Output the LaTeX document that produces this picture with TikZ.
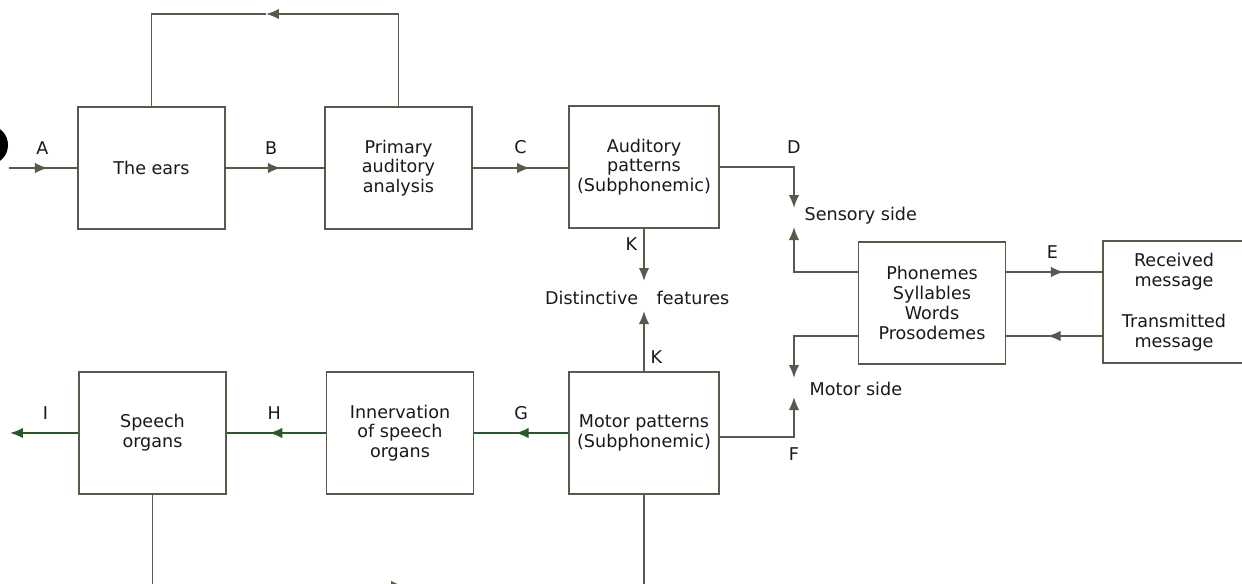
\documentclass[tikz,border=0pt]{standalone}
\usepackage{fontspec}
\setmainfont{DejaVu Sans}
\usepackage{tikz}
\usetikzlibrary{arrows.meta}
\usetikzlibrary{calc}
\usetikzlibrary{decorations.markings}
\definecolor{ink}{RGB}{25,25,25}
\definecolor{wire}{RGB}{85,90,74}
\definecolor{gwire}{RGB}{40,90,40}
\tikzset{l/.style={font=\fontsize{10}{11.5}\selectfont, text=ink}}
\tikzset{blk/.style={draw=wire, minimum width=2.94cm, minimum height=2.44cm, inner sep=0pt, align=center, font=\fontsize{10}{11.3}\selectfont, text=ink}}
\tikzset{mid/.style={postaction={decorate}, decoration={markings, mark=at position #1 with {\arrow{>}}}}}

\begin{document}
\begin{tikzpicture}[x=0.02cm, y=-0.02cm, line width=1pt, color=wire, >={Latex[length=2.6mm,width=2.1mm]}]
          \useasboundingbox (0,0) rectangle (1242,583);
          \clip (0,0) rectangle (1242,583);
          \fill[black] (-10,145) ellipse [x radius=18, y radius=19];
          \node[blk] (ears) at (151.5,168) {The ears};
          \node[blk] (prim) at (398.5,168) {Primary\\auditory\\analysis};
          \node[blk, minimum width=3cm] (audp) at (644,167) {Auditory\\patterns\\(Subphonemic)};
          \node[blk] (phon) at (932,303) {Phonemes\\Syllables\\Words\\Prosodemes};
          \node[blk, minimum width=2.84cm] (recv) at (1174,302) {Received\\message\\[12pt]Transmitted\\message};
          \node[blk] (speech) at (152.5,433) {Speech\\organs};
          \node[blk] (innv) at (400,433) {Innervation\\of speech\\organs};
          \node[blk, minimum width=3cm] (motor) at (644,433) {Motor patterns\\(Subphonemic)};
          \coordinate (src) at (9,168);
          \draw[mid=0.57] (src) -- (ears) node[l, pos=0.49, above=4pt] {A};
          \draw[mid=0.56] (ears) -- (prim) node[l, pos=0.46, above=4pt] {B};
          \draw[mid=0.6] (prim) -- (prim.east -| audp.west) node[l, pos=0.5, above=4pt] {C};
          \coordinate (fb) at (266,14);
          \draw[->] (prim.north) |- (fb);
          \draw (fb) -| (ears.north);
          \coordinate (sd) at (794,208);
          \coordinate (su) at (794,227);
          \draw[->] (audp.east) -| (sd) node[l, pos=0.5, above=4pt] {D};
          \draw[->] ($(phon.west)+(0,-31)$) -| (su);
          \node[l, anchor=west] (sens) at (798,216) {Sensory side};
          \coordinate (e1) at ($(phon.east)+(0,-31)$);
          \coordinate (e2) at ($(recv.west)+(0,34)$);
          \draw[mid=0.6] (e1) -- (e1 -| recv.west) node[l, pos=0.48, above=4pt] {E};
          \draw[mid=0.57] (e2) -- (e2 -| phon.east);
          \coordinate (md) at (794,378);
          \coordinate (mu) at (794,397);
          \draw[->] ($(phon.west)+(0,33)$) -| (md);
          \draw[->] ($(motor.east)+(0,4)$) -| (mu) node[l, pos=0.5, below=2pt] {F};
          \node[l, anchor=west] (mside) at (803,389) {Motor side};
          \coordinate (kd) at (644,281);
          \coordinate (ku) at (644,311);
          \draw[->] (audp.south) -- (kd) node[l, pos=0.29, left] {K};
          \draw[->] (motor.north) -- (ku) node[l, pos=0.23, right] {K};
          \node[l, anchor=east] (dist) at (645,298) {Distinctive};
          \node[l, anchor=west] (feat) at (650,298) {features};
          \coordinate (out) at (10,433);
          \draw[gwire, mid=0.56] (motor) -- (innv) node[l, pos=0.5, above=4pt] {G};
          \draw[gwire, mid=0.57] (innv) -- (speech) node[l, pos=0.52, above=4pt] {H};
          \draw[gwire, ->] (speech) -- (out) node[l, pos=0.48, above=4pt] {I};
          \coordinate (fb2) at (404,586);
          \draw[->] (speech.south) |- (fb2);
          \draw (fb2) -| (motor.south);
        \end{tikzpicture}
\end{document}
